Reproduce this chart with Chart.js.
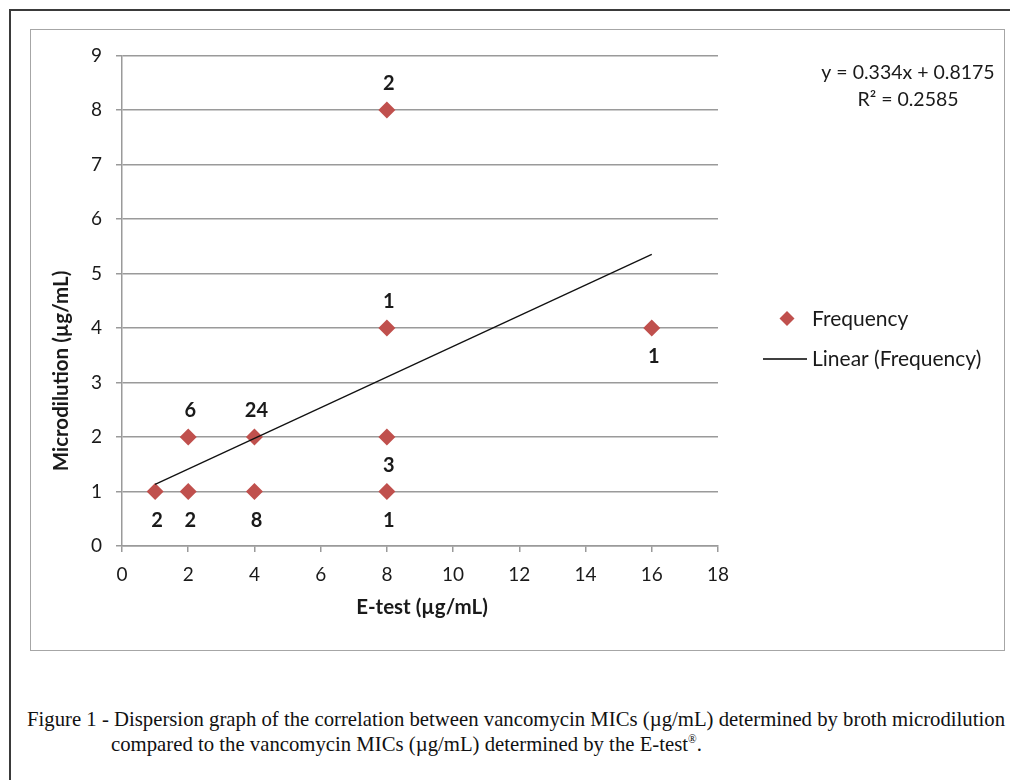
<!DOCTYPE html>
<html>
<head>
<meta charset="utf-8">
<script src="https://cdn.jsdelivr.net/npm/chart.js@4.4.1/dist/chart.umd.min.js"></script>
<style>
  html, body { margin: 0; padding: 0; background: #fff; width: 1010px; height: 780px; overflow: hidden; }
  #outer { position: absolute; left: 9px; top: 9px; width: 1010px; height: 800px; border: 2px solid #3a3a3a; box-sizing: border-box; }
  #frame { position: absolute; left: 30px; top: 29px; width: 975px; height: 622px; border: 1.5px solid #a6a6a6; box-sizing: border-box; background: #fff; }
  #wrap { position: absolute; left: 31px; top: 30px; width: 972px; height: 619px; }
  #caption { position: absolute; left: 27px; top: 707px; font-family: "Liberation Serif", "DejaVu Serif", serif; font-size: 21px; color: #111; white-space: nowrap; transform-origin: 0 0; line-height: 25px; }
  #caption div { white-space: nowrap; }
  #caption span { display: inline-block; }
</style>
</head>
<body>
<div id="outer"></div>
<div id="frame"></div>
<div id="wrap"><canvas id="c" width="972" height="619"></canvas></div>
<div id="caption">
  <div><span id="cap1">Figure 1 - Dispersion graph of the correlation between vancomycin MICs (µg/mL) determined by broth microdilution</span></div>
  <div id="cap2line"><span id="cap2">compared to the vancomycin MICs (µg/mL) determined by the E-test<sup style="font-size:55%; vertical-align: 0.7em; line-height:0">®</sup>.</span></div>
</div>
<script>
// ---- data ----
const etest = [1, 2, 2, 4, 4, 8, 8, 8, 8, 16];            // E-test MIC (x)
const microdilution = [1, 1, 2, 1, 2, 1, 2, 4, 8, 4];      // Microdilution MIC (y)
const frequency = [2, 2, 6, 8, 24, 1, 3, 1, 2, 1];         // point labels
const labelSide = ['below', 'below', 'above', 'below', 'above', 'below', 'below', 'above', 'above', 'below'];
const trendX = [1, 16];
const trendY = [1.13, 5.35];
const equationLines = ['y = 0.334x + 0.8175', 'R² = 0.2585'];
const legendLabels = ['Frequency', 'Linear (Frequency)'];
const xTitle = 'E-test (µg/mL)';
const yTitle = 'Microdilution (µg/mL)';

const RED = '#c0504d';
const GRID = '#9a9a9a';
const TXT = '#1a1a1a';
const FONT = 'Lato, "Open Sans", sans-serif';

const labelsPlugin = {
  id: 'pointLabels',
  afterDatasetsDraw(chart) {
    const ctx = chart.ctx;
    const meta = chart.getDatasetMeta(0);
    ctx.save();
    ctx.font = 'bold 20px ' + FONT;
    ctx.fillStyle = TXT;
    ctx.textAlign = 'center';
    ctx.textBaseline = 'middle';
    meta.data.forEach((el, i) => {
      const dy = labelSide[i] === 'above' ? -26 : 29;
      ctx.fillText(String(frequency[i]), el.x + 2, el.y + dy);
    });
    ctx.restore();
  }
};

const extrasPlugin = {
  id: 'extras',
  afterDraw(chart) {
    const ctx = chart.ctx;
    ctx.save();
    // equation
    ctx.font = '19.5px ' + FONT;
    ctx.fillStyle = TXT;
    ctx.textAlign = 'center';
    ctx.textBaseline = 'middle';
    ctx.fillText(equationLines[0], 877, 43);
    ctx.fillText(equationLines[1], 877, 70);
    // legend
    ctx.font = '21px ' + FONT;
    ctx.textAlign = 'left';
    ctx.fillStyle = RED;
    ctx.beginPath();
    ctx.moveTo(756, 281); ctx.lineTo(763.5, 288.5); ctx.lineTo(756, 296); ctx.lineTo(748.5, 288.5);
    ctx.closePath(); ctx.fill();
    ctx.fillStyle = TXT;
    ctx.fillText(legendLabels[0], 781, 289);
    ctx.strokeStyle = '#000';
    ctx.lineWidth = 1.3;
    ctx.beginPath(); ctx.moveTo(732, 329); ctx.lineTo(776, 329); ctx.stroke();
    ctx.fillText(legendLabels[1], 781, 329);
    // axis titles
    ctx.font = 'bold 20.5px ' + FONT;
    ctx.textAlign = 'center';
    ctx.fillText(xTitle, 391, 577);
    ctx.translate(30, 341);
    ctx.rotate(-Math.PI / 2);
    ctx.fillText(yTitle, 0, 0);
    ctx.restore();
  }
};

new Chart(document.getElementById('c'), {
  type: 'scatter',
  data: {
    datasets: [
      {
        label: legendLabels[0],
        data: etest.map((x, i) => ({ x: x, y: microdilution[i] })),
        pointStyle: 'rectRot',
        pointRadius: 8.5,
        pointHoverRadius: 8.5,
        backgroundColor: RED,
        borderColor: RED,
        borderWidth: 0,
        order: 1
      },
      {
        type: 'line',
        label: legendLabels[1],
        data: trendX.map((x, i) => ({ x: x, y: trendY[i] })),
        borderColor: '#111',
        borderWidth: 1.3,
        pointRadius: 0,
        fill: false,
        order: 0
      }
    ]
  },
  options: {
    responsive: false,
    animation: false,
    events: [],
    layout: { padding: { top: 21, right: 285, bottom: 63, left: 0 } },
    plugins: { legend: { display: false }, tooltip: { enabled: false } },
    scales: {
      x: {
        type: 'linear', min: 0, max: 18,
        afterFit(s) { s.height = 40; },
        ticks: { stepSize: 2, padding: 11, color: TXT, font: { family: FONT, size: 19 } },
        grid: { drawOnChartArea: false, drawTicks: true, tickLength: 6, tickColor: GRID, color: GRID, lineWidth: 1.5 },
        border: { display: true, color: GRID, width: 1.5 }
      },
      y: {
        type: 'linear', min: 0, max: 9,
        afterFit(s) { s.width = 91; },
        ticks: { stepSize: 1, padding: 14, color: TXT, font: { family: FONT, size: 19 } },
        grid: { color: GRID, lineWidth: 1.5, tickLength: 6, tickColor: GRID },
        border: { display: true, color: GRID, width: 1.5 }
      }
    }
  },
  plugins: [labelsPlugin, extrasPlugin]
});

// caption fitting (condensed serif as in the source figure)
(function () {
  const cap = document.getElementById('caption');
  const w1 = document.getElementById('cap1').getBoundingClientRect().width;
  const scale = 978 / w1;
  document.getElementById('cap2line').style.paddingLeft = (84 / scale) + 'px';
  cap.style.transform = 'scaleX(' + scale + ')';
})();
</script>
</body>
</html>
